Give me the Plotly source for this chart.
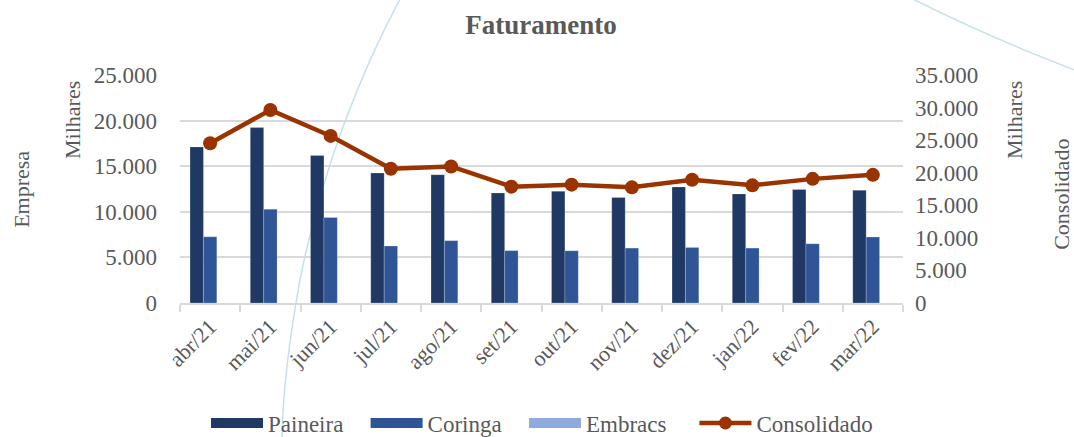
import plotly.graph_objects as go

categories = ["abr/21", "mai/21", "jun/21", "jul/21", "ago/21", "set/21",
              "out/21", "nov/21", "dez/21", "jan/22", "fev/22", "mar/22"]
paineira = [17115, 19230, 16165, 14250, 14065, 12070, 12250, 11560, 12725, 11960, 12440, 12375]
coringa = [7260, 10290, 9375, 6250, 6836, 5745, 5730, 6020, 6090, 6020, 6495, 7227]
embracs = [0, 0, 0, 0, 0, 0, 0, 0, 0, 0, 0, 0]
consolidado = [24530, 29635, 25650, 20610, 20960, 17860, 18165, 17755, 18930, 18060, 19055, 19670]

series_names = ["Paineira", "Coringa", "Embracs"]
series_values = [paineira, coringa, embracs]
series_colors = ["#203864", "#2F5597", "#8FAADC"]
legend_pad = [3, 3, 4]

W, H = 1074, 437
L, R, T, B = 180, 903, 75, 303.3
FONT = "Liberation Serif"
GRAY = "#595959"
GRID = "#d9d9d9"
RED = "#993300"

def px(x):
    return (x - L) / (R - L)

def py(y):
    return (B - y) / (B - T)

fig = go.Figure()
for name, vals, col in zip(series_names, series_values, series_colors):
    fig.add_trace(go.Bar(x=categories, y=vals, name=name, marker_color=col,
                         marker_line=dict(width=0.6, color="rgba(255,255,255,0.35)"),
                         showlegend=False, legendgroup=name))
fig.add_trace(go.Scatter(x=categories, y=consolidado, name="Consolidado", yaxis="y2",
                         mode="lines+markers", showlegend=False, legendgroup="Consolidado",
                         line=dict(color=RED, width=4.5),
                         marker=dict(color=RED, size=14)))

# legend entries (wide rectangular swatches like the reference)
for name, col, pad in zip(series_names, series_colors, legend_pad):
    fig.add_trace(go.Scatter(x=[None], y=[None], name=name + "\u00a0" * pad, mode="lines",
                             legendgroup=name, line=dict(color=col, width=11)))
fig.add_trace(go.Scatter(x=[None], y=[None], name="Consolidado", mode="lines+markers",
                         legendgroup="Consolidado", yaxis="y2",
                         line=dict(color=RED, width=4.5), marker=dict(color=RED, size=13)))

def curve(points):
    p = "M {:.4f},{:.4f}".format(px(points[0][0]), py(points[0][1]))
    for (x1, y1), (x2, y2) in zip(points[1::2], points[2::2]):
        p += " Q {:.4f},{:.4f} {:.4f},{:.4f}".format(px(x1), py(y1), px(x2), py(y2))
    return p

shapes = [
    dict(type="path", xref="paper", yref="paper", layer="below",
         path=curve([(402, -5), (330, 130), (300, 280), (282, 380), (282, 445)]),
         line=dict(color="#c6e0ea", width=1.5)),
    dict(type="path", xref="paper", yref="paper", layer="below",
         path=curve([(905, -5), (990, 38), (1080, 72)]),
         line=dict(color="#c6e0ea", width=1.5)),
]

def vlabel(text, x, y):
    return dict(text=text, x=px(x), y=py(y), xref="paper", yref="paper", textangle=-90,
                xanchor="center", yanchor="middle", showarrow=False,
                font=dict(family=FONT, size=22, color=GRAY))

annotations = [
    vlabel("Milhares", 73, 120),
    vlabel("Empresa", 22, 190),
    vlabel("Milhares", 1015, 120),
    vlabel("Consolidado", 1062, 195),
]

fig.update_layout(
    width=W, height=H,
    margin=dict(l=L, r=W - R, t=T, b=H - B, pad=0, autoexpand=False),
    paper_bgcolor="white", plot_bgcolor="white",
    separators=",.",
    font=dict(family=FONT, size=22, color=GRAY),
    title=dict(text="<b>Faturamento</b>", x=px(541), xref="paper", y=1 - 25 / H, yref="container",
               xanchor="center", yanchor="middle",
               font=dict(family=FONT, size=27, color=GRAY)),
    barmode="group", bargap=0.333, bargroupgap=0,
    showlegend=True,
    legend=dict(orientation="h", x=px(206), xanchor="left", y=py(402), yanchor="top",
                font=dict(family=FONT, size=23, color=GRAY), traceorder="normal",
                itemwidth=52, tracegroupgap=0, bgcolor="rgba(0,0,0,0)",
                itemclick=False, itemdoubleclick=False),
    xaxis=dict(type="category", range=[-0.5, len(categories) - 0.5],
               showgrid=False, showline=True, linecolor=GRID, linewidth=2,
               automargin=False,
               ticks="outside", tickson="boundaries", ticklen=7, tickcolor=GRID, tickwidth=2,
               tickangle=-45, tickfont=dict(family=FONT, size=22, color=GRAY)),
    yaxis=dict(range=[0, 25000], dtick=5000, tickformat=",d", showgrid=True, gridcolor=GRID,
               gridwidth=2, zeroline=False, showline=False, ticks="", automargin=False,
               ticklabelstandoff=22, tickfont=dict(family=FONT, size=23, color=GRAY)),
    yaxis2=dict(range=[0, 35000], dtick=5000, tickformat=",d", overlaying="y", side="right",
                showgrid=False, zeroline=False, showline=False, ticks="", automargin=False,
                ticklabelstandoff=11, tickfont=dict(family=FONT, size=23, color=GRAY)),
    shapes=shapes,
    annotations=annotations,
)

fig.write_html("out.html", config={"displayModeBar": False},
               post_script="document.body.style.margin='0';document.body.style.overflow='hidden';")
